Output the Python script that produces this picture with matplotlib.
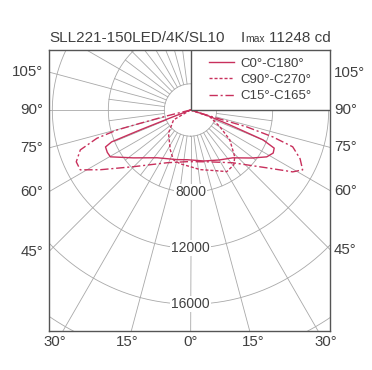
import matplotlib
matplotlib.use("Agg")
import matplotlib.pyplot as plt
from matplotlib.patches import Rectangle
import numpy as np

plt.rcParams['font.family'] = ['Liberation Sans', 'DejaVu Sans']

# ---- data ----
title = "SLL221-150LED/4K/SL10"
imax_value = "11248 cd"
series_labels = ["C0°-C180°", "C90°-C270°", "C15°-C165°"]

# gamma in degrees (negative = left half), intensity in cd
c0_gamma = [-90, -68.7, -68.4, -68.0, -66.5, -63.0, -59.7, -50.1, -34.9, -15.0, -4.0,
            15.0, 30.0, 41.5, 52.0, 58.4, 62.5, 65.5, 67.6, 69.2, 72.0, 90]
c0_cd = [2130, 3430, 5990, 8200, 8750, 8800, 8760, 7460, 6290, 5800, 5690,
         5900, 6250, 6690, 7700, 8520, 8790, 8700, 7730, 5130, 3400, 2130]

c90_gamma = [-60, -59.8, -43.6, -27.1, -19.0, -11.0, 0.0, 9.0, 22.0, 30.5, 38.3,
             43.4, 52.8, 60.5, 71.0, 90]
c90_cd = [2130, 3530, 4410, 5310, 5890, 6040, 6180, 6440, 6800, 7240, 7120,
          6730, 5650, 4530, 3580, 2130]

c15_gamma = [-90, -76.0, -75.2, -74.8, -73.2, -70.1, -65.6, -61.5, -56.5, -45.3, -23.9, -3.9,
             17.6, 38.7, 52.8, 58.8, 61.9, 66.0, 70.2, 71.9, 73.3, 72.7, 90]
c15_cd = [2130, 3860, 5840, 7570, 9110, 10500, 11090, 11090, 9860, 7890, 6250, 5830,
          6010, 6960, 8960, 10660, 11210, 10700, 9890, 8310, 6320, 3790, 2130]

ring_values = [4000, 8000, 12000, 16000, 20000]
ring_labels = [8000, 12000, 16000]
side_ticks = [105, 90, 75, 60, 45]
bottom_ticks = [-30, -15, 0, 15, 30]

# ---- layout (pixels) ----
W, H = 372, 370
box_l, box_r, box_t, box_b = 49, 330, 50, 331
cx, cy = 190.5, 110
R = 280
scale = 0.014          # px per cd
I0 = 2130              # intensity at the centre point
line_color = '#c8305c'
grid_color = '#a8a8a8'
text_color = '#404040'

fig = plt.figure(figsize=(W / 100, H / 100), dpi=100)
fig.patch.set_facecolor('white')

# polar axes for the photometric data
axp = fig.add_axes([(cx - R) / W, (H - cy - R) / H, 2 * R / W, 2 * R / H],
                   projection='polar', zorder=1)
axp.set_theta_zero_location('S')
axp.set_ylim(I0, I0 + R / scale)
axp.axis('off')

# rectangular frame on top
ax = fig.add_axes([box_l / W, (H - box_b) / H, (box_r - box_l) / W, (box_b - box_t) / H],
                  zorder=2)
ax.set_xlim(box_l - cx, box_r - cx)
ax.set_ylim(box_b - cy, box_t - cy)
ax.patch.set_facecolor('none')
ax.set_xticks([])
ax.set_yticks([])
for s in ax.spines.values():
    s.set_color('#555555')
    s.set_linewidth(1.0)

clip = ax.patch
rmax = I0 + R / scale

# grid: rings
th = np.linspace(0, 2 * np.pi, 721)
for v in ring_values:
    ln, = axp.plot(th, np.full_like(th, v), color=grid_color, lw=0.6, zorder=1)
    ln.set_clip_path(clip)
# grid: spokes (15 deg to the edge, extra 7.5 deg ones near the centre)
for a in np.arange(0, 360, 7.5):
    t = np.deg2rad(a)
    top = rmax if a % 15 == 0 else ring_values[1]
    ln, = axp.plot([t, t], [ring_values[0], top], color=grid_color, lw=0.6, zorder=1)
    ln.set_clip_path(clip)

# curves
styles = ['-', (0, (2.2, 1.4)), (0, (6, 2, 1.5, 2))]
handles = []
for g, v, ls, lab in zip([c0_gamma, c90_gamma, c15_gamma], [c0_cd, c90_cd, c15_cd],
                         styles, series_labels):
    ln, = axp.plot(np.deg2rad(g), v, color=line_color, lw=1.0, ls=ls, label=lab, zorder=3)
    ln.set_clip_path(clip)
    handles.append(ln)

# ring labels
for v in ring_labels:
    axp.text(0, v, str(v), ha='center', va='center', fontsize=10, color=text_color,
             zorder=4, bbox=dict(facecolor='white', edgecolor='none', pad=0.5))

# legend box in the upper right quadrant
ax.add_patch(Rectangle((0, box_t - cy), box_r - cx, cy - box_t, facecolor='white',
                       edgecolor='#555555', lw=1.0, zorder=3))
ax.legend(handles, series_labels, loc='center', bbox_to_anchor=(0, box_t - cy, box_r - cx, cy - box_t),
          bbox_transform=ax.transData, frameon=False, fontsize=9.5, handlelength=1.9,
          handletextpad=0.5, labelspacing=0.3, labelcolor=text_color)

# angle labels where the spokes meet the frame
xl, xr = box_l - cx, box_r - cx
for a in side_ticks:
    t = np.deg2rad(a)
    ax.text(xl - 6, -xl / np.tan(t), f"{a}°", ha='right', va='center', fontsize=10.8,
            color=text_color, clip_on=False)
    ax.text(xr + 4, xr / np.tan(t), f"{a}°", ha='left', va='center', fontsize=10.8,
            color=text_color, clip_on=False)
yb = box_b - cy
for a in bottom_ticks:
    t = np.deg2rad(a)
    ax.text((yb + 14) * np.tan(t), yb + 4, f"{abs(a)}°", ha='center', va='top', fontsize=10.8,
            color=text_color, clip_on=False)

# title line
fig.text(box_l / W, (H - 41.7) / H, title, ha='left', va='baseline', fontsize=11, color=text_color)
t_num = fig.text((box_r + 1) / W, (H - 41.7) / H, imax_value, ha='right', va='baseline',
                 fontsize=11, color=text_color)
t_max = fig.text(0, 0, "max", ha='right', va='baseline', fontsize=7.5, color=text_color)
fig.canvas.draw()
bb = t_num.get_window_extent()
t_max.set_position(((bb.x0 - 4) / W, (H - 41.7) / H))
fig.canvas.draw()
bb2 = t_max.get_window_extent()
fig.text((bb2.x0 - 0.5) / W, (H - 41.7) / H, "I", ha='right', va='baseline', fontsize=11,
         color=text_color)

fig.savefig('out.png', dpi=100)
